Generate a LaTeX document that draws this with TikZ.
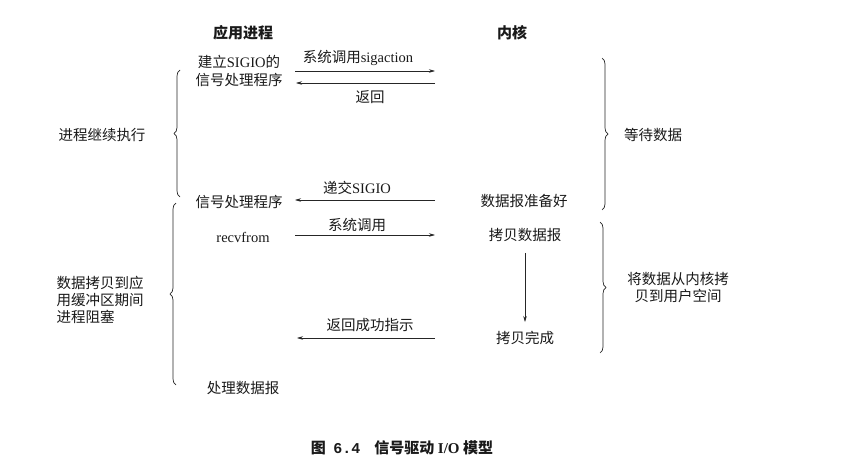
\documentclass[tikz,border=0pt]{standalone}
\usepackage{fontspec}
\setmainfont{Liberation Serif}
\setmonofont{Liberation Mono}
\newfontfamily\cjk{Noto Sans CJK SC}
\usetikzlibrary{arrows.meta,decorations.pathreplacing}

\begin{document}
\begin{tikzpicture}[x=1pt,y=-1pt,
  txt/.style={font=\cjk\fontsize{14.5}{17}\selectfont,inner sep=1pt,align=center,text=black!90},
  head/.style={font=\cjk\bfseries\fontsize{15}{17}\selectfont,inner sep=1pt,text=black!90},
  arr/.style={-{Stealth[length=6pt,width=3.5pt]},line width=0.6pt,draw=black!85},
  brc/.style={decorate,decoration={brace,amplitude=6pt},line width=0.7pt,draw=black!85}]
\useasboundingbox (0,0) rectangle (844,471);

% column heads
\node[head] (app) at (243,33) {应用进程};
\node[head] (kern) at (512,33) {内核};

% install the handler
\node[txt,font=\cjk\fontsize{14.5}{18}\selectfont] (setup) at (239,71) {建立{\rmfamily SIGIO}的\\信号处理程序};
\coordinate (s1) at (295,71);
\coordinate (k1) at (435,71);
\draw[arr] (s1) -- (k1);
\node[txt] (sigcall) at (358,58) {系统调用{\rmfamily sigaction}};
\coordinate (s2) at (296,83);
\coordinate (k2) at (435,83);
\draw[arr] (k2) -- (s2);
\node[txt] (ret) at (370,97) {返回};

% signal delivered
\node[txt] (handler) at (239,202) {信号处理程序};
\node[txt] (ready) at (524,201) {数据报准备好};
\coordinate (s3) at (295,200);
\coordinate (k3) at (435,200);
\draw[arr] (k3) -- (s3);
\node[txt] (deliver) at (357,188) {递交{\rmfamily SIGIO}};

% copy the datagram
\node[txt] (recv) at (243,237) {\rmfamily recvfrom};
\coordinate (s4) at (295,235);
\coordinate (k4) at (435,235);
\draw[arr] (s4) -- (k4);
\node[txt] (syscall) at (357,225) {系统调用};
\node[txt] (copy) at (525,235) {拷贝数据报};
\node[txt] (done) at (525,338) {拷贝完成};
\draw[arr,shorten <=10pt,shorten >=8pt] (copy) -- (done);
\node[txt] (okret) at (370,325) {返回成功指示};
\coordinate (s5) at (297,338);
\coordinate (k5) at (435,338);
\draw[arr] (k5) -- (s5);
\node[txt] (process) at (243,388) {处理数据报};

% braces
\draw[brc] (180,197) -- (180,70);
\node[txt] (cont) at (102,135) {进程继续执行};
\draw[brc] (176,385) -- (176,203);
\node[txt,align=left] (block) at (100,300) {数据拷贝到应\\用缓冲区期间\\进程阻塞};
\draw[brc] (602,58) -- (602,210);
\node[txt] (wait) at (653,135) {等待数据};
\draw[brc] (600,222) -- (600,353);
\node[txt] (move) at (678,288) {将数据从内核拷\\贝到用户空间};

% caption
\node[txt,font=\cjk\bfseries\fontsize{15}{17}\selectfont] (cap) at (402,448) {图\enspace{\ttfamily\bfseries 6.4}\hspace{14pt}信号驱动 {\rmfamily\bfseries I/O} 模型};
\end{tikzpicture}
\end{document}
